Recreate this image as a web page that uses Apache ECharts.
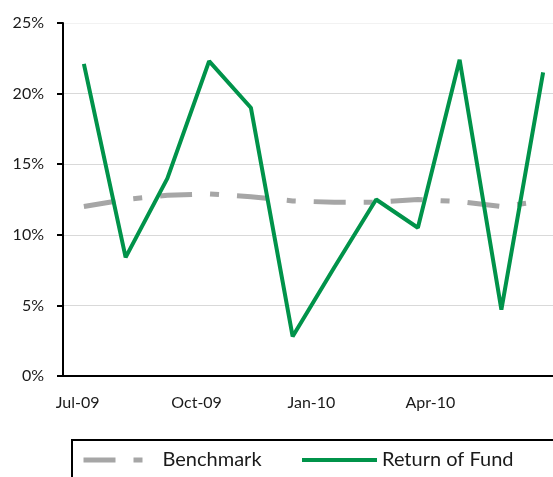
<!DOCTYPE html>
<html>
<head>
<meta charset="utf-8">
<script src="https://cdn.jsdelivr.net/npm/echarts@6/dist/echarts.min.js"></script>
<style>html,body{margin:0;padding:0;background:#fff}#c{width:553px;height:477px}</style>
</head>
<body>
<div id="c"></div>
<script>
var months = ['Jul-09','Aug-09','Sep-09','Oct-09','Nov-09','Dec-09','Jan-10','Feb-10','Mar-10','Apr-10','May-10','Jun-10'];
var benchmark = [12.0, 12.5, 12.8, 12.9, 12.7, 12.4, 12.3, 12.3, 12.5, 12.35, 12.0, 12.4];
var fund = [22.1, 8.4, 14.0, 22.3, 19.0, 2.8, 7.7, 12.5, 10.5, 22.4, 4.7, 21.5];
var xTickLabels = ['Jul-09', 'Oct-09', 'Jan-10', 'Apr-10'];
var xTickPositions = [-0.15, 2.7, 5.45, 8.3];
var yTicks = [0, 5, 10, 15, 20, 25];

var FONT = 'Lato';
var DASH = [32, 18, 9, 18];
var chart = echarts.init(document.getElementById('c'));
function pairs(arr){ return arr.map(function(v,i){ return [i, v]; }); }
chart.setOption({
  animation: false,
  textStyle: { fontFamily: FONT },
  grid: { left: 63, right: -11, top: 23, bottom: 101, outerBoundsMode: 'none', containLabel: false },
  xAxis: {
    type: 'value', min: -0.5, max: 11.5,
    axisLine: { show: true, onZero: false, lineStyle: { color: '#000', width: 2 } },
    axisTick: { show: false },
    splitLine: { show: false },
    axisLabel: {
      customValues: xTickPositions,
      margin: 19, fontSize: 16, color: '#1a1a1a', fontFamily: FONT,
      formatter: function(v){ var i = xTickPositions.indexOf(v); return i >= 0 ? xTickLabels[i] : ''; }
    }
  },
  yAxis: {
    type: 'value', min: yTicks[0], max: yTicks[yTicks.length-1], interval: 5,
    axisLine: { show: true, onZero: false, lineStyle: { color: '#000', width: 2 } },
    axisTick: { show: true, length: 6, lineStyle: { color: '#000', width: 2 } },
    splitLine: { show: true, lineStyle: { color: ['#d9d9d9','#d9d9d9','#d9d9d9','#d9d9d9','#d9d9d9','#f2f2f2'], width: 1 } },
    axisLabel: { formatter: '{value}%', margin: 19, fontSize: 16, color: '#1a1a1a', fontFamily: FONT }
  },
  legend: [
    {
      data: ['Benchmark'], left: 72, top: 440,
      orient: 'horizontal',
      itemWidth: 74, itemHeight: 14,
      padding: [10, 600, 40, 9],
      borderColor: '#000', borderWidth: 2,
      itemStyle: { opacity: 0 },
      lineStyle: { color: '#a6a6a6', width: 5, type: DASH, cap: 'butt' },
      textStyle: { fontSize: 20, color: '#1a1a1a', fontFamily: FONT }
    },
    {
      data: ['Return of Fund'], left: 300, top: 450,
      itemWidth: 75, itemHeight: 14, padding: 0,
      itemStyle: { opacity: 0 },
      lineStyle: { color: '#00934a', width: 4, cap: 'butt' },
      textStyle: { fontSize: 20, color: '#1a1a1a', fontFamily: FONT }
    }
  ],
  series: [
    {
      name: 'Benchmark', type: 'line', data: pairs(benchmark),
      symbol: 'none', smooth: false,
      itemStyle: { color: '#a6a6a6' },
      lineStyle: { color: '#a6a6a6', width: 5, type: DASH, cap: 'butt' }
    },
    {
      name: 'Return of Fund', type: 'line', data: pairs(fund),
      symbol: 'none',
      itemStyle: { color: '#00934a' },
      lineStyle: { color: '#00934a', width: 4 }
    }
  ]
});
</script>
</body>
</html>
